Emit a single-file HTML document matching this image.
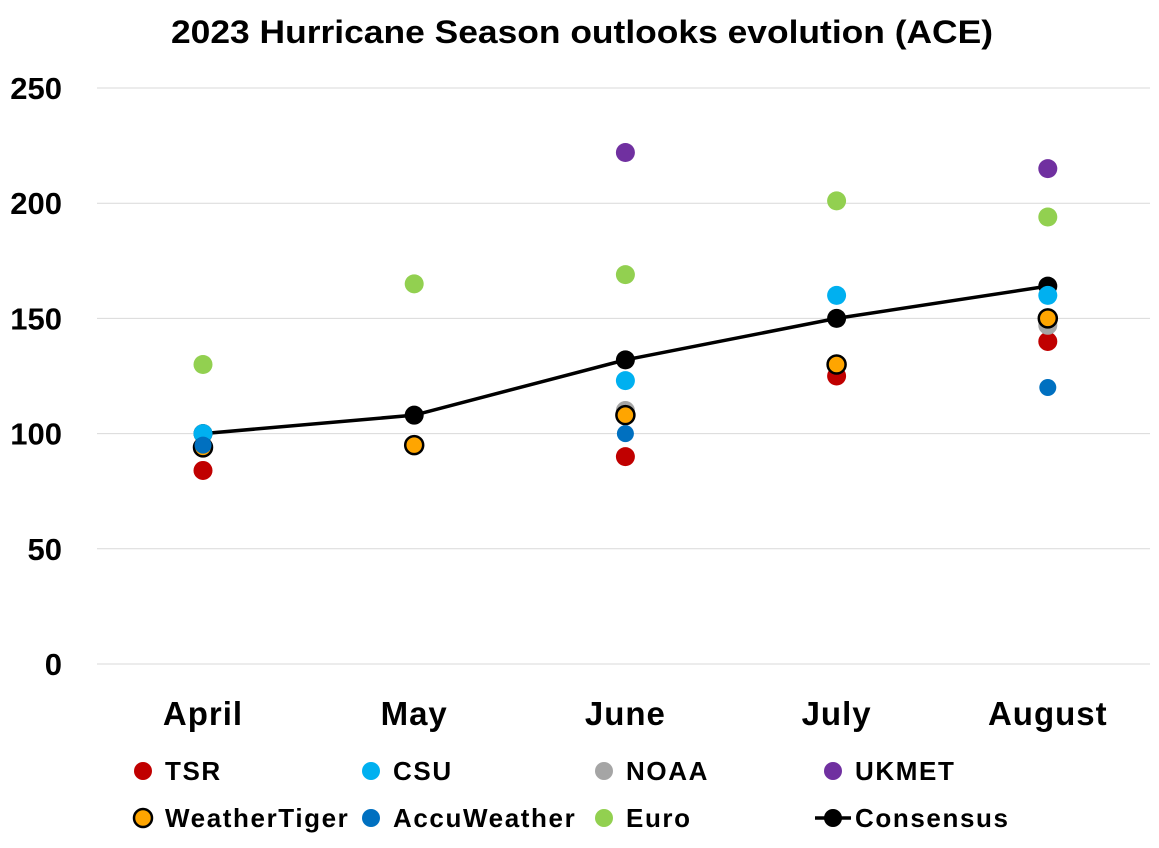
<!DOCTYPE html>
<html><head><meta charset="utf-8"><style>
body{margin:0;background:#fff;font-family:"Liberation Sans",sans-serif;}
svg text{font-family:"Liberation Sans",sans-serif;font-weight:bold;fill:#000;}
</style></head><body>
<svg id="chart" width="1159" height="843" viewBox="0 0 1159 843" xmlns="http://www.w3.org/2000/svg">
<text x="582" y="43" text-anchor="middle" font-size="32" textLength="822" lengthAdjust="spacingAndGlyphs">2023 Hurricane Season outlooks evolution (ACE)</text>
<g id="grid"></g><g id="yticks"></g><g id="xticks"></g><g id="marks"></g><g id="legend"></g>
</svg>
<script>
const categories=["April","May","June","July","August"];
const yTicks=[0,50,100,150,200,250];
const tsr=[84,null,90,125,140];
const csu=[100,null,123,160,160];
const noaa=[null,null,110,130,147];
const ukmet=[null,null,222,null,215];
const weatherTiger=[94,95,108,130,150];
const accuWeather=[95,null,100,null,120];
const euro=[130,165,169,201,194];
const consensus=[100,108,132,150,164];

const NS="http://www.w3.org/2000/svg";
function mk(tag,attrs,parent){const e=document.createElementNS(NS,tag);for(const k in attrs)e.setAttribute(k,attrs[k]);parent.appendChild(e);return e;}
const x=i=>203+i*211.2;
const y=v=>664-v*2.304;
const grid=document.getElementById('grid'),yt=document.getElementById('yticks'),xt=document.getElementById('xticks'),marks=document.getElementById('marks'),leg=document.getElementById('legend');
yTicks.forEach(t=>{
 const l=mk('line',{x1:97,x2:1150,y1:y(t),y2:y(t),stroke:'#d9d9d9','stroke-width':1},grid);
 
 
 const tx=mk('text',{x:62,y:y(t)+11,'text-anchor':'end','font-size':31},yt);
 tx.textContent=t;
 
 
});
categories.forEach((c,i)=>{
 const tx=mk('text',{x:x(i),y:725,'text-anchor':'middle','font-size':33,'letter-spacing':1},xt);
 tx.textContent=c;
 
 
});
const series=[
 {name:'TSR',data:tsr,fill:'#c00000',stroke:'none',r:9.5},
 {name:'CSU',data:csu,fill:'#00b0f0',stroke:'none',r:9.5},
 {name:'NOAA',data:noaa,fill:'#a5a5a5',stroke:'none',r:9.5},
 {name:'UKMET',data:ukmet,fill:'#7030a0',stroke:'none',r:9.5},
 {name:'Euro',data:euro,fill:'#92d050',stroke:'none',r:9.5},
 {name:'WeatherTiger',data:weatherTiger,fill:'#ffa500',stroke:'#000',r:9},
 {name:'AccuWeather',data:accuWeather,fill:'#0070c0',stroke:'none',r:8.5},
];
let pts=consensus.map((v,i)=>x(i)+','+y(v)).join(' ');
const pl=mk('polyline',{points:pts,fill:'none',stroke:'#000','stroke-width':3.5},marks);


consensus.forEach((v,i)=>{
 const c=mk('circle',{cx:x(i),cy:y(v),r:9.5,fill:'#000'},marks);
 
 
});
series.forEach(s=>{
 s.data.forEach((v,i)=>{
  if(v===null)return;
  const c=mk('circle',{cx:x(i),cy:y(v),r:s.r,fill:s.fill,stroke:s.stroke,'stroke-width':s.stroke==='none'?0:2.5},marks);
  
  
 });
});
const legItems=[
 ['TSR','#c00000','none',143,771],['CSU','#00b0f0','none',371,771],['NOAA','#a5a5a5','none',604,771],['UKMET','#7030a0','none',833,771],
 ['WeatherTiger','#ffa500','#000',143,818],['AccuWeather','#0070c0','none',371,818],['Euro','#92d050','none',604,818],['Consensus','#000','line',833,818]
];
legItems.forEach(it=>{
 const g=mk('g',{},leg);
 
 
 if(it[2]==='line')mk('line',{x1:815,x2:851,y1:it[4],y2:it[4],stroke:'#000','stroke-width':3.5},g);
 mk('circle',{cx:it[3],cy:it[4],r:9,fill:it[1],stroke:it[2]==='#000'?'#000':'none','stroke-width':2.5},g);
 const t=mk('text',{x:it[3]+22,y:it[4]+9,'font-size':26,'letter-spacing':1.6},g);
 t.textContent=it[0];
});
</script>
</body></html>
